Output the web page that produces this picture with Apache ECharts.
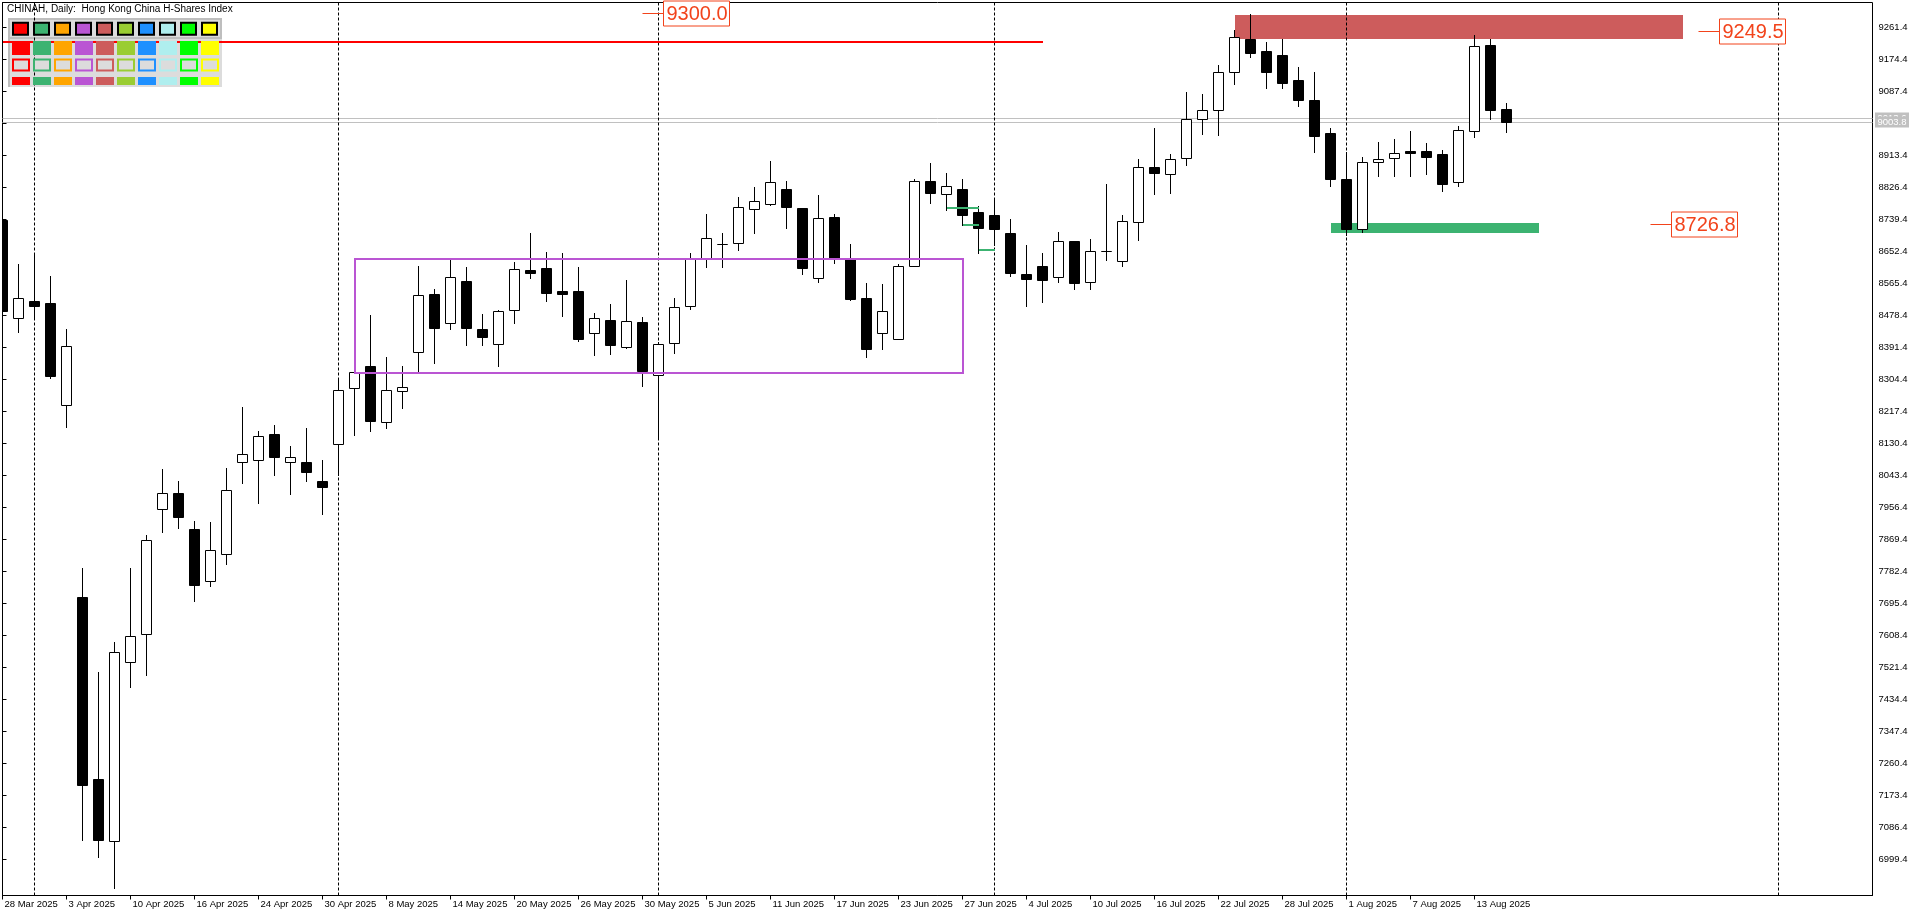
<!DOCTYPE html>
<html><head><meta charset="utf-8">
<script src="https://cdn.jsdelivr.net/npm/echarts@6.0.0/dist/echarts.min.js"></script>
<style>html,body{margin:0;padding:0;background:#fff;overflow:hidden}#c{width:1920px;height:915px}</style>
</head><body><div id="c"></div>
<script>
// ---------------- data ----------------
const dates = ['28 Mar 2025','31 Mar 2025','1 Apr 2025','2 Apr 2025','3 Apr 2025','7 Apr 2025','8 Apr 2025','9 Apr 2025','10 Apr 2025','11 Apr 2025',
'14 Apr 2025','15 Apr 2025','16 Apr 2025','17 Apr 2025','22 Apr 2025','23 Apr 2025','24 Apr 2025','25 Apr 2025','28 Apr 2025','29 Apr 2025',
'30 Apr 2025','2 May 2025','6 May 2025','7 May 2025','8 May 2025','9 May 2025','12 May 2025','13 May 2025','14 May 2025','15 May 2025',
'16 May 2025','19 May 2025','20 May 2025','21 May 2025','22 May 2025','23 May 2025','26 May 2025','27 May 2025','28 May 2025','29 May 2025',
'30 May 2025','2 Jun 2025','3 Jun 2025','4 Jun 2025','5 Jun 2025','6 Jun 2025','9 Jun 2025','10 Jun 2025','11 Jun 2025','12 Jun 2025',
'13 Jun 2025','16 Jun 2025','17 Jun 2025','18 Jun 2025','19 Jun 2025','20 Jun 2025','23 Jun 2025','24 Jun 2025','25 Jun 2025','26 Jun 2025',
'27 Jun 2025','30 Jun 2025','2 Jul 2025','3 Jul 2025','4 Jul 2025','7 Jul 2025','8 Jul 2025','9 Jul 2025','10 Jul 2025','11 Jul 2025',
'14 Jul 2025','15 Jul 2025','16 Jul 2025','17 Jul 2025','18 Jul 2025','21 Jul 2025','22 Jul 2025','23 Jul 2025','24 Jul 2025','25 Jul 2025',
'28 Jul 2025','29 Jul 2025','30 Jul 2025','31 Jul 2025','1 Aug 2025','4 Aug 2025','5 Aug 2025','6 Aug 2025','7 Aug 2025','8 Aug 2025',
'11 Aug 2025','12 Aug 2025','13 Aug 2025','14 Aug 2025','15 Aug 2025'];

const open = [8738.1,8470.8,8517.9,8511.6,8234.3,7713.1,7218.3,7048.9,7537.2,7611.7,
7951.5,7995.0,7897.2,7757.4,7829.2,8081.0,8084.8,8155.5,8079.3,8079.3,
8028.5,8128.3,8280.5,8341.1,8188.1,8272.4,8378.4,8536.9,8457.2,8572.2,
8441.7,8400.1,8492.5,8602.1,8606.8,8544.2,8544.2,8430.0,8466.2,8393.6,
8460.8,8315.9,8402.9,8503.4,8632.0,8672.0,8674.7,8767.2,8780.8,8822.4,
8770.7,8579.6,8746.2,8632.0,8526.0,8430.0,8413.7,8612.2,8844.1,8807.9,
8822.4,8759.8,8751.7,8702.7,8591.3,8613.0,8582.3,8681.0,8568.7,8655.0,
8625.8,8731.8,8882.2,8864.0,8907.5,9011.9,9036.3,9139.6,9230.2,9197.5,
9186.7,9118.7,9064.3,8974.6,8849.5,8714.4,8896.6,8905.8,8925.7,8925.7,
8917.5,8842.2,8979.2,9213.9,9039.9];
const high = [8778.8,8618.5,8644.8,8585.8,8441.7,7791.9,7509.2,7590.8,7791.9,7881.7,
8061.1,8028.5,7919.7,7917.0,8063.8,8229.7,8164.4,8180.7,8123.6,8171.8,
8085.6,8303.1,8352.0,8479.8,8365.6,8341.1,8613.0,8550.5,8629.3,8610.3,
8482.5,8492.5,8623.1,8702.7,8651.1,8648.4,8610.3,8485.2,8509.7,8574.9,
8474.4,8406.4,8525.2,8647.5,8754.4,8702.7,8800.6,8827.8,8898.5,8844.1,
8770.7,8805.2,8754.4,8672.8,8566.8,8564.1,8618.5,8848.7,8893.0,8865.9,
8849.5,8775.3,8797.9,8740.8,8670.1,8648.4,8705.5,8681.0,8686.4,8835.9,
8751.7,8903.1,8988.2,8917.5,9086.1,9080.6,9159.5,9254.6,9298.1,9222.0,
9230.2,9154.0,9140.4,8988.2,8922.1,8909.4,8950.1,8958.3,8980.0,8947.4,
8928.4,8993.6,9241.0,9230.2,9056.2];
const low = [8471.6,8434.4,8471.6,8309.3,8176.1,7053.3,7007.1,6922.0,7469.3,7501.9,
7890.7,7901.5,7703.0,7743.8,7802.0,8023.9,7969.5,8044.8,7994.0,8028.5,
7939.6,8044.8,8153.5,8164.4,8172.6,8226.9,8324.0,8350.1,8442.5,8399.0,
8398.2,8342.0,8458.9,8581.2,8518.7,8477.9,8409.9,8371.9,8374.6,8390.1,
8287.6,8148.9,8377.3,8495.3,8611.1,8611.1,8657.3,8703.5,8778.0,8717.1,
8592.1,8570.3,8622.0,8521.4,8366.4,8388.2,8413.7,8612.2,8785.1,8765.3,
8724.5,8649.2,8670.1,8585.8,8505.1,8516.0,8570.3,8551.3,8551.3,8630.2,
8613.8,8684.5,8809.6,8812.3,8888.4,8972.7,8970.0,9108.6,9182.0,9097.8,
9097.8,9048.8,8923.8,8831.3,8698.1,8706.3,8858.5,8858.5,8858.5,8864.0,
8817.7,8831.3,8962.9,9013.5,8978.1];
const close = [8490.7,8525.2,8505.1,8314.8,8395.5,7202.8,7053.3,7562.8,7606.2,7868.1,
7995.0,7931.4,7746.5,7840.1,8003.2,8101.1,8150.0,8094.6,8092.9,8053.8,
8013.0,8275.1,8324.0,8192.4,8275.1,8283.2,8533.4,8445.3,8582.3,8445.3,
8420.8,8489.8,8604.0,8594.8,8540.4,8537.7,8415.4,8470.8,8399.0,8463.5,
8328.4,8400.1,8500.7,8632.0,8688.3,8672.8,8772.6,8788.9,8840.6,8774.2,
8608.4,8742.7,8632.0,8523.3,8388.2,8489.8,8612.2,8843.3,8812.3,8829.7,
8752.5,8717.1,8714.4,8594.8,8578.5,8575.8,8681.0,8567.6,8653.8,8653.8,
8734.5,8881.4,8866.7,8903.1,9012.7,9037.1,9139.6,9235.6,9192.9,9141.3,
9111.4,9065.1,8967.3,8850.4,8714.4,8894.9,8903.1,8919.4,8921.0,8910.2,
8836.8,8981.9,9210.3,9038.0,9003.8];

const xTickIdx = [0,4,8,12,16,20,24,28,32,36,40,44,48,52,56,60,64,68,72,76,80,84,88,92];
const yTicks = [6999.4,7086.4,7173.4,7260.4,7347.4,7434.4,7521.4,7608.4,7695.4,7782.4,7869.4,7956.4,8043.4,
8130.4,8217.4,8304.4,8391.4,8478.4,8565.4,8652.4,8739.4,8826.4,8913.4,9000.4,9087.4,9174.4,9261.4];
const monthSeparators = [2,21,41,62,84,111];
const bidAsk = [9013.6, 9003.8];
const redZone = [77,105,9230.1,9295.4];
const greenZone = [83,96,8702.7,8729.9];
const rangeBox = [22,60,8322.1,8632.0];
const redLine = [0,65,9222.0];
const greenSegments = [[59,61,8770.7],[60,61,8725.3],[61,62,8657.3]];
const priceLabels = [[40,9300.0],[106,9249.5],[103,8726.8]];
const titleText = 'CHINAH, Daily:  Hong Kong China H-Shares Index';
const swatchColors = ['#FF0000','#3CB371','#FFA500','#BA55D3','#CD5C5C','#9ACD32','#1E90FF','#AFEEEE','#00FF00','#FFFF00'];

// ---------------- chart ----------------
const FONT = '"Liberation Sans", Arial, sans-serif';
const chart = echarts.init(document.getElementById('c'), null, {renderer:'canvas'});

function rectItem(params, api){
  const p1 = api.coord([api.value(0), api.value(3)]);
  const p2 = api.coord([api.value(1), api.value(2)]);
  const x1 = Math.round(p1[0]), x2 = Math.round(p2[0]);
  const y1 = Math.round(p1[1]), y2 = Math.round(p2[1]);
  return {type:'rect', shape:{x:x1, y:y1, width:x2-x1, height:y2-y1}, style:{fill:api.visual('color')}};
}
function boxItem(params, api){
  const p1 = api.coord([api.value(0), api.value(3)]);
  const p2 = api.coord([api.value(1), api.value(2)]);
  return {type:'rect', shape:{x:Math.round(p1[0]), y:Math.round(p1[1]), width:Math.round(p2[0])-Math.round(p1[0]), height:Math.round(p2[1])-Math.round(p1[1])},
    style:{fill:'none', stroke:'#BA55D3', lineWidth:2}};
}
function segItem(params, api){
  const p1 = api.coord([api.value(0), api.value(2)]);
  const p2 = api.coord([api.value(1), api.value(2)]);
  const y = Math.round(p1[1]);
  return {type:'line', shape:{x1:Math.round(p1[0]), y1:y, x2:Math.round(p2[0]), y2:y}, style:{stroke:api.visual('color'), lineWidth:2}};
}
function sepItem(params, api){
  const x = Math.floor(api.coord([api.value(0), 8000])[0]) + 0.5;
  const cs = params.coordSys;
  return {type:'line', shape:{x1:x, y1:cs.y, x2:x, y2:cs.y+cs.height}, style:{stroke:'#000', lineWidth:1, lineDash:[3,2]}};
}
function candleItem(params, api){
  const i = api.value(0), o = api.value(1), c = api.value(2), l = api.value(3), h = api.value(4);
  const xc = Math.floor(api.coord([i, o])[0]) + 0.5;
  const yo = api.coord([i,o])[1], yc = api.coord([i,c])[1];
  const yl = api.coord([i,l])[1], yh = api.coord([i,h])[1];
  const top = Math.round(Math.min(yo,yc)), bot = Math.round(Math.max(yo,yc));
  const bull = c >= o;
  return {type:'group', children:[
    {type:'line', shape:{x1:xc, y1:Math.round(yh), x2:xc, y2:Math.round(yl)+1}, style:{stroke:'#000', lineWidth:1}},
    {type:'rect', shape:{x:xc-5, y:top+0.5, width:10, height:Math.max(bot-top,0)}, style:{fill:bull?'#fff':'#000', stroke:'#000', lineWidth:1}}
  ]};
}
function priceLineItem(params, api){
  const v = api.value(0);
  const y = Math.floor(api.coord([0, v])[1]) + 0.5;
  const cs = params.coordSys;
  const bx = cs.x + cs.width + 2.5;
  return {type:'group', children:[
    {type:'line', shape:{x1:cs.x, y1:y, x2:cs.x+cs.width, y2:y}, style:{stroke:'#C0C0C0', lineWidth:1}},
    {type:'rect', shape:{x:bx, y:y-6, width:34, height:11}, style:{fill:'#C0C0C0'}},
    {type:'text', style:{text:v.toFixed(1), x:bx+17, y:y, align:'center', verticalAlign:'middle', font:'9.5px '+FONT, fill:'#fff'}}
  ]};
}
function priceLabelItem(params, api){
  const v = api.value(1);
  const p = api.coord([api.value(0), v]);
  const x = Math.floor(p[0]) + 0.5, y = Math.floor(p[1]) + 0.5;
  const col = '#F2431B';
  return {type:'group', children:[
    {type:'line', shape:{x1:x, y1:y, x2:x+21, y2:y}, style:{stroke:col, lineWidth:1}},
    {type:'rect', shape:{x:x+21, y:y-12.5, width:66, height:25}, style:{fill:'#fff', stroke:col, lineWidth:1}},
    {type:'text', style:{text:v.toFixed(1), x:x+21+33.5, y:y+0.5, align:'center', verticalAlign:'middle', font:'20px '+FONT, fill:col}}
  ]};
}

// legend panel graphic
const g = [];
g.push({type:'rect', shape:{x:8, y:18, width:214, height:69}, style:{fill:'#DCDCDC'}, z:0});
g.push({type:'rect', shape:{x:9, y:19, width:212, height:19}, style:{fill:'#DCDCDC', stroke:'#BEBEBE', lineWidth:2}, z:0});
g.push({type:'rect', shape:{x:8, y:38, width:2, height:49}, style:{fill:'#BEBEBE'}, z:0});
swatchColors.forEach((col,k)=>{
  const x = 12 + 21*k;
  g.push({type:'rect', shape:{x:x+1, y:22.7, width:15, height:12}, style:{fill:col, stroke:'#000', lineWidth:2}, z:100});
  g.push({type:'rect', shape:{x:x, y:41, width:18, height:14}, style:{fill:col}, z:100});
  g.push({type:'rect', shape:{x:x+1, y:59.5, width:16, height:11}, style:{fill:'#DCDCDC', stroke:col, lineWidth:2}, z:100});
  g.push({type:'rect', shape:{x:x, y:77, width:18, height:8}, style:{fill:col}, z:100});
});
g.push({type:'text', style:{text:titleText, x:7, y:9, verticalAlign:'middle', font:'10px '+FONT, fill:'#000'}, z:100});

const option = {
  animation:false,
  backgroundColor:'#fff',
  grid:{left:2.5, right:47.5, top:2.5, bottom:19.5, show:true, borderColor:'#000', borderWidth:1, backgroundColor:'#fff'},
  xAxis:{type:'value', min:0, max:116.875,
    axisLine:{show:true, lineStyle:{color:'#000', width:1}},
    splitLine:{show:false},
    axisTick:{show:true, customValues:xTickIdx, length:4, lineStyle:{color:'#000'}},
    axisLabel:{customValues:xTickIdx, formatter:(v)=>dates[v], align:'left', padding:[0,0,0,2], margin:4,
      fontSize:9.5, fontFamily:FONT, color:'#000'}
  },
  yAxis:{type:'value', position:'right', min:6901.53, max:9329.37,
    axisLine:{show:true, lineStyle:{color:'#000', width:1}},
    splitLine:{show:false},
    axisTick:{show:true, customValues:yTicks, length:4, lineStyle:{color:'#000'}},
    axisLabel:{customValues:yTicks, formatter:(v)=>v.toFixed(1), margin:6, fontSize:9.5, fontFamily:FONT, color:'#000'}
  },
  graphic:{elements:g},
  series:[
    {type:'custom', name:'zones', z:1, renderItem:rectItem, encode:{x:[0,1], y:[2,3]},
      data:[{value:redZone, itemStyle:{color:'#CD5C5C'}},{value:greenZone, itemStyle:{color:'#3CB371'}}]},
    {type:'custom', name:'bidask', z:2, renderItem:priceLineItem, encode:{y:0}, data:bidAsk.map(v=>[v])},
    {type:'custom', name:'separators', z:3, renderItem:sepItem, encode:{x:0}, data:monthSeparators.map(v=>[v])},
    {type:'custom', name:'candles', z:4, clip:true, renderItem:candleItem, encode:{x:0, y:[1,2,3,4]},
      data:dates.map((d,i)=>[i, open[i], close[i], low[i], high[i]])},
    {type:'custom', name:'range', z:5, renderItem:boxItem, encode:{x:[0,1], y:[2,3]}, data:[rangeBox]},
    {type:'custom', name:'lines', z:5, renderItem:segItem, encode:{x:[0,1], y:2},
      data:[{value:redLine, itemStyle:{color:'#FF0000'}}].concat(greenSegments.map(s=>({value:s, itemStyle:{color:'#3CB371'}})))},
    {type:'custom', name:'labels', z:6, renderItem:priceLabelItem, encode:{x:0, y:1}, data:priceLabels}
  ]
};
chart.setOption(option);
</script></body></html>
